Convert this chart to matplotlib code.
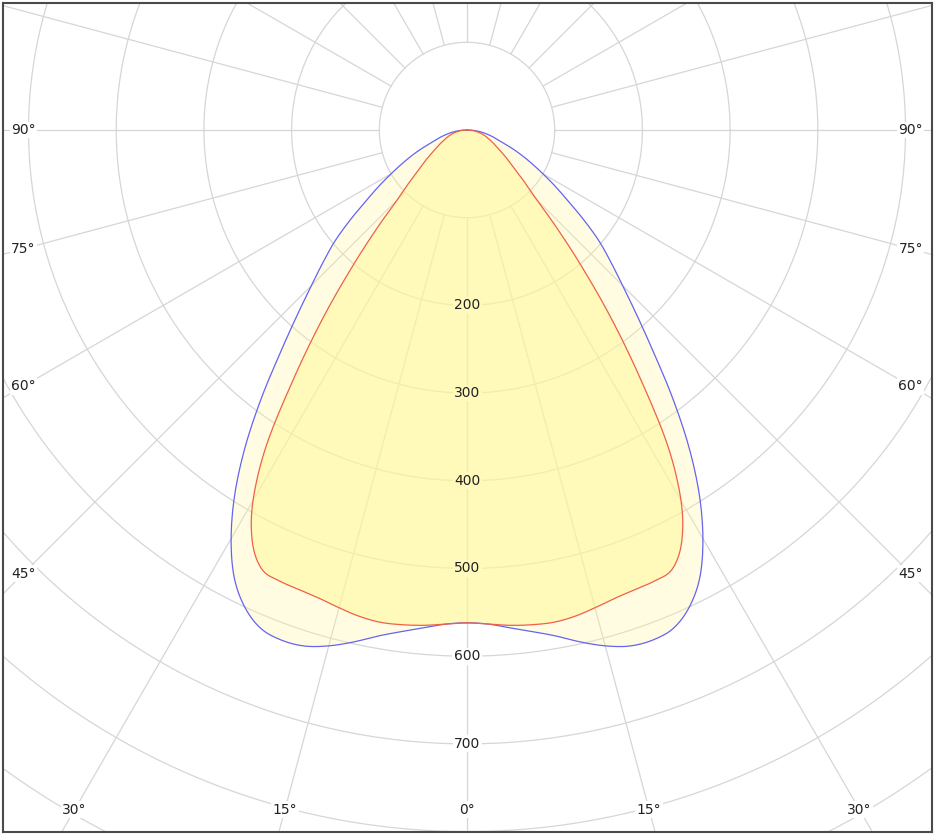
import numpy as np
import matplotlib
matplotlib.use("Agg")
import matplotlib.pyplot as plt

# ============================================================
# data (cd/klm), gamma angles 0..90, symmetric curves
# ============================================================
angles = [0, 2.5, 5, 7.5, 10, 12.5, 15, 17.5, 20, 22.5, 25, 27.5, 30,
          32.5, 35, 37.5, 40, 42.5, 45, 47.5, 50, 52.5, 55, 57.5, 60,
          62.5, 65, 67.5, 70, 72.5, 75, 77.5, 80, 82.5, 85, 87.5, 90]

# C0-C180 plane (blue)
blue_vals = [562, 564, 570, 577, 586, 598, 609, 617, 619, 615, 600, 575, 538,
             493, 441, 385, 331, 287, 251, 222, 196, 167, 140, 119, 100,
             84, 70, 57, 45, 37, 31, 25, 20, 15, 10, 5, 0]

# C90-C270 plane (red)
red_vals = [562, 564, 567, 569, 570, 568, 564, 560, 558, 557, 553, 530, 488,
            425, 342, 269, 204, 152, 112, 91, 74, 63, 54, 46, 40,
            35, 31, 27, 24, 21, 18, 15, 12, 9, 6, 3, 0]

ring_values = [100, 200, 300, 400, 500, 600, 700, 800, 900, 1000]
ring_labels = [200, 300, 400, 500, 600, 700]
side_labels = [45, 60, 75, 90]
bottom_labels = [0, 15, 30]

grid_col = "#d6d6d6"
outer_fill = (1.0, 247 / 255, 160 / 255)
inner_fill = (1.0, 247 / 255, 154 / 255)
outer_alpha = 0.3
inner_alpha = 0.55


def to_xy(ang, vals):
    a = np.radians(np.asarray(ang, dtype=float))
    v = np.asarray(vals, dtype=float)
    return v * np.sin(a), -v * np.cos(a)


def catmull(x, y, n=8):
    # smooth drawing of the polyline (points stay on the data)
    px = np.concatenate([[x[0]], x, [x[-1]]])
    py = np.concatenate([[y[0]], y, [y[-1]]])
    s = np.linspace(0, 1, n, endpoint=False)
    ox, oy = [], []
    for i in range(1, len(px) - 2):
        for p, o in ((px, ox), (py, oy)):
            p0, p1, p2, p3 = p[i - 1], p[i], p[i + 1], p[i + 2]
            o.extend(0.5 * (2 * p1 + (-p0 + p2) * s
                            + (2 * p0 - 5 * p1 + 4 * p2 - p3) * s ** 2
                            + (-p0 + 3 * p1 - 3 * p2 + p3) * s ** 3))
    ox.append(x[-1])
    oy.append(y[-1])
    return np.array(ox), np.array(oy)


def full_curve(vals):
    ang = np.array(angles, dtype=float)
    v = np.array(vals, dtype=float)
    ang_full = np.concatenate([-ang[::-1], ang[1:]])
    v_full = np.concatenate([v[::-1], v[1:]])
    x, y = to_xy(ang_full, v_full)
    return catmull(x, y)


def over(c, a, bg):
    return tuple(a * ci + (1 - a) * bi for ci, bi in zip(c, bg))


fig = plt.figure(figsize=(9.37, 8.38), dpi=100)
ax = fig.add_axes([3 / 937, 6 / 838, 929 / 937, 829 / 838])
ax.set_xlim(-529.1, 530.2)
ax.set_ylim(-800.5, 144.8)
ax.set_xticks([])
ax.set_yticks([])
for sp in ax.spines.values():
    sp.set_color("#4a4a4a")
    sp.set_linewidth(1.5)

# grid: rings + radial lines
t = np.linspace(0, 2 * np.pi, 720)
for r in ring_values:
    ax.plot(r * np.cos(t), r * np.sin(t), color=grid_col, lw=0.9, zorder=1)
for a in range(0, 360, 15):
    x, y = to_xy([a, a], [100, 1400])
    ax.plot(x, y, color=grid_col, lw=0.9, zorder=1)

# fills + outlines
bx, by = full_curve(blue_vals)
rx, ry = full_curve(red_vals)
ax.fill(bx, by, color=outer_fill, alpha=outer_alpha, lw=0, zorder=3)
ax.fill(rx, ry, color=inner_fill, alpha=inner_alpha, lw=0, zorder=3)
ax.plot(bx, by, color="#6464f0", lw=0.9, zorder=4)
ax.plot(rx, ry, color="#f06048", lw=0.9, zorder=4)

# value labels along 0 deg, background = colour under the label
c_outer = over(outer_fill, outer_alpha, (1, 1, 1))
c_inner = over(inner_fill, inner_alpha, c_outer)
for v in ring_labels:
    bg = c_inner if v < red_vals[0] else "white"
    ax.text(0, -v, str(v), ha="center", va="center", fontsize=10,
            color="#222222", zorder=5,
            bbox=dict(facecolor=bg, edgecolor="none", pad=1))

# angle labels on the frame
xs = 506
yb = 775
for a in side_labels:
    yy = -xs / np.tan(np.radians(a)) if a != 90 else 0
    for sgn in (-1, 1):
        ax.text(sgn * xs, yy, f"{a}°", ha="center", va="center", fontsize=10,
                color="#222222", zorder=5,
                bbox=dict(facecolor="white", edgecolor="none", pad=1))
for a in bottom_labels:
    xx = yb * np.tan(np.radians(a))
    for sgn in ((1,) if a == 0 else (-1, 1)):
        ax.text(sgn * xx, -yb, f"{a}°", ha="center", va="center", fontsize=10,
                color="#222222", zorder=5,
                bbox=dict(facecolor="white", edgecolor="none", pad=1))

fig.savefig("out.png", dpi=100)
